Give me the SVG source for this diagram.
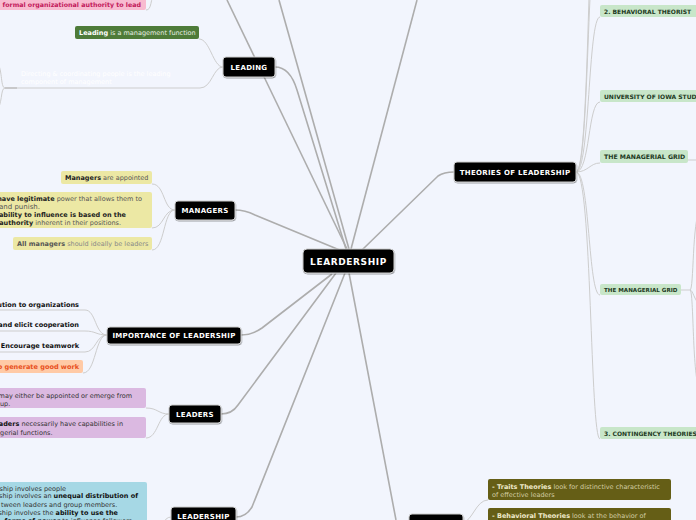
<svg xmlns="http://www.w3.org/2000/svg" width="696" height="520" viewBox="0 0 696 520">
<defs>
<filter id="sh" x="-10%" y="-20%" width="120%" height="150%"><feDropShadow dx="0.5" dy="1" stdDeviation="0.7" flood-color="#000" flood-opacity="0.35"/></filter>
<style>
text{font-family:"DejaVu Sans","Verdana",sans-serif}
.nd{fill:#000;stroke:#cfcfcf;stroke-width:1;filter:url(#sh)}
.nt{fill:#fff;font-weight:bold;font-size:7px;text-anchor:middle;letter-spacing:0.3px}
.gr{fill:#c8e6c9}
.gt{fill:#1e3a24;font-weight:bold;font-size:6px}
.main{fill:none;stroke:#adadad;stroke-width:1.6}
.sub{fill:none;stroke:#cdcdcd;stroke-width:1}
.b{font-size:6.5px}
.bo{font-weight:bold}
.imp{font-weight:bold;font-size:6.55px;text-anchor:end}
</style>
</defs>
<rect width="696" height="520" fill="#f2f5fd"/>
<g id="connectors">
<path class="main" d="M347 249 L227 0"/>
<path class="main" d="M349 249 L279 0"/>
<path class="main" d="M275 67 Q290 67 297 90 L346 249"/>
<path class="main" d="M351 249 L417 0"/>
<path class="main" d="M235 210 Q245 210 255 215 L342 251"/>
<path class="main" d="M362 250 L438 176 Q444 172 454 172"/>
<path class="main" d="M241 335 Q252 335 262 328 L332 274"/>
<path class="main" d="M221 414 Q232 414 238 405 L336 273"/>
<path class="main" d="M236 517 Q246 517 252 507 L345 273"/>
<path class="main" d="M349 273 L396 520 Q398 528 409 528"/>
<path class="sub" d="M576 172 C590 172 586 -80 600 -80"/>
<path class="sub" d="M576 172 C591 172 587 -160 600 -160"/>
<path class="sub" d="M576 172 C590 172 588 17 600 17"/>
<path class="sub" d="M576 172 C590 172 588 102 600 102"/>
<path class="sub" d="M576 172 C588 172 590 163 600 163"/>
<path class="sub" d="M576 172 C590 172 588 295 600 295"/>
<path class="sub" d="M576 172 C592 172 590 439 600 439"/>
<path class="sub" d="M688 160 L700 160"/>
<path class="sub" d="M681 290 L690 290 C694 290 692 220 700 210"/>
<path class="sub" d="M690 290 C694 290 692 380 700 390"/>
<path class="sub" d="M690 290 C693 290 694 300 700 305"/>
<path class="sub" d="M146 10 C152 10 150 0 155 -10"/>
<path class="sub" d="M223 67 C213 67 210 39 199 39"/>
<path class="sub" d="M223 67 C213 67 212 88 200 88 L17 88"/>
<path fill="none" stroke="#bdbdbd" stroke-width="1.6" d="M5 88 L17 88"/>
<path class="sub" d="M5 88 C0 88 3 66 -4 62"/>
<path class="sub" d="M5 88 C0 88 3 106 -4 110"/>
<path class="sub" d="M175 210 C163 210 165 184 152 184"/>
<path class="sub" d="M175 210 C163 210 164 228 152 228"/>
<path class="sub" d="M175 210 C163 210 165 250 152 250"/>
<path class="sub" d="M0 310 L85 310 C96 310 95 335 107 335"/>
<path class="sub" d="M0 331 L85 331 C96 331 96 335 107 335"/>
<path class="sub" d="M0 352 L85 352 C96 352 96 335 107 335"/>
<path class="sub" d="M83 373 C96 373 95 335 107 335"/>
<path class="sub" d="M169 414 C158 414 158 408 146 408"/>
<path class="sub" d="M169 414 C158 414 158 438 146 438"/>
<path class="sub" d="M171 517 C163 517 162 530 150 535"/>
<path class="sub" d="M463 522 C472 522 476 500 488 500"/>
<path class="sub" d="M463 522 C470 522 478 530 488 530"/>
</g>
<g id="n-center"><rect class="nd" x="303" y="249" width="91" height="24" rx="4"/><text x="348.5" y="265" class="nt" style="font-size:9px;letter-spacing:0.6px">LEARDERSHIP</text></g>
<g id="n-theories"><rect class="nd" x="454" y="162" width="122" height="20" rx="3"/><text x="515" y="174.5" class="nt">THEORIES OF LEADERSHIP</text></g>
<g id="n-leading"><rect class="nd" x="223" y="57" width="52" height="20" rx="3"/><text x="249" y="69.5" class="nt">LEADING</text></g>
<g id="n-managers"><rect class="nd" x="175" y="201" width="60" height="19" rx="3"/><text x="205" y="213" class="nt">MANAGERS</text></g>
<g id="n-importance"><rect class="nd" x="107" y="327" width="134" height="17" rx="3"/><text x="174" y="338" class="nt">IMPORTANCE OF LEADERSHIP</text></g>
<g id="n-leaders"><rect class="nd" x="169" y="405" width="52" height="18" rx="3"/><text x="195" y="416.5" class="nt">LEADERS</text></g>
<g id="n-leadership"><rect class="nd" x="171" y="507" width="65" height="22" rx="3"/><text x="203.5" y="519" class="nt">LEADERSHIP</text></g>
<g id="n-bottom"><rect class="nd" x="409" y="514" width="54" height="20" rx="3"/></g>
<g id="n-behav"><rect class="gr" x="600" y="5" width="100" height="12" rx="2"/><text x="604" y="13.5" class="gt">2. BEHAVIORAL THEORIST</text></g>
<g id="n-iowa"><rect class="gr" x="600" y="90" width="100" height="12" rx="2"/><text x="604" y="98.5" class="gt">UNIVERSITY OF IOWA STUDIES</text></g>
<g id="n-grid1"><rect class="gr" x="600" y="150" width="88" height="13" rx="2"/><text x="604" y="159" class="gt" style="font-size:6.2px">THE MANAGERIAL GRID</text></g>
<g id="n-grid2"><rect class="gr" x="600" y="284" width="81" height="11" rx="2"/><text x="604" y="292" class="gt" style="font-size:5.6px">THE MANAGERIAL GRID</text></g>
<g id="n-contingency"><rect class="gr" x="600" y="427" width="100" height="12" rx="2"/><text x="604" y="435.5" class="gt">3. CONTINGENCY THEORIES</text></g>
<g id="n-pink"><rect x="-5" y="-8" width="151" height="18" rx="2" fill="#f8bbd0"/><text x="141" y="7" text-anchor="end" class="bo" style="font-size:6.3px" fill="#c2185b">formal organizational authority to lead</text></g>
<g id="n-leadfunc"><rect x="75" y="26" width="124" height="13" rx="2" fill="#4e7b39"/><text x="79" y="35" class="b" fill="#e8efe4"><tspan class="bo" fill="#fff">Leading</tspan> is a management function</text></g>
<g id="n-directing"><text x="21" y="76" class="b" fill="#fff">Directing &amp; coordinating people is the leading</text><text x="21" y="84" class="b" fill="#fff">component of management</text></g>
<g id="n-appointed"><rect x="61" y="171" width="91" height="13" rx="2" fill="#ece8a4"/><text x="65" y="180" class="b" fill="#555"><tspan class="bo" fill="#222">Managers</tspan> are appointed</text></g>
<g id="n-legit"><rect x="-5" y="192" width="157" height="36" rx="2" fill="#ece8a4"/>
<text x="142" y="200.5" text-anchor="end" class="b" fill="#555"><tspan class="bo" fill="#222">have legitimate</tspan> power that allows them to</text>
<text x="-1" y="208.5" class="b" fill="#555" style="font-size:7px">and punish.</text>
<text x="126" y="216.5" text-anchor="end" class="b bo" fill="#222">ability to influence is based on the</text>
<text x="121" y="224.5" text-anchor="end" class="b" fill="#555"><tspan class="bo" fill="#222">authority</tspan> inherent in their positions.</text></g>
<g id="n-allmanagers"><rect x="13" y="237" width="139" height="13" rx="2" fill="#ece8a4"/><text x="17" y="246" class="b" fill="#888"><tspan class="bo" fill="#555">All managers</tspan> should ideally be leaders</text></g>
<g id="n-imp1"><text x="79" y="306.5" class="imp" fill="#111">ution to organizations</text></g>
<g id="n-imp2"><text x="79" y="327" class="imp" fill="#111">and elicit cooperation</text></g>
<g id="n-imp3"><text x="79" y="348" class="imp" fill="#111">Encourage teamwork</text></g>
<g id="n-imp4"><rect x="-5" y="360" width="88" height="13" rx="2" fill="#ffcaa6"/><text x="79" y="369.3" class="imp" fill="#e8501c">o generate good work</text></g>
<g id="n-appointedemerge"><rect x="-5" y="388" width="151" height="20" rx="2" fill="#dbb9e1"/>
<text x="132" y="398" text-anchor="end" class="b" fill="#333">may either be appointed or emerge from</text>
<text x="0" y="405.6" class="b" fill="#333">up.</text></g>
<g id="n-capab"><rect x="-5" y="417" width="151" height="21" rx="2" fill="#dbb9e1"/>
<text x="123" y="426.3" text-anchor="end" class="b" fill="#333"><tspan class="bo" fill="#111">aders</tspan> necessarily have capabilities in</text>
<text x="0" y="434.6" class="b" fill="#333">gerial functions.</text></g>
<g id="n-involves"><rect x="-5" y="482" width="152" height="45" rx="2" fill="#a6d8e5"/>
<text x="66" y="490.6" text-anchor="end" class="b" fill="#333">ship involves people</text>
<text x="138" y="498.3" text-anchor="end" class="b" fill="#333">ship involves an <tspan class="bo" fill="#111">unequal distribution of</tspan></text>
<text x="1" y="506.6" class="b" fill="#333">tween leaders  and group members.</text>
<text x="118" y="514.6" text-anchor="end" class="b" fill="#333">ship involves the <tspan class="bo" fill="#111">ability to use the</tspan></text>
<text x="132" y="522.6" text-anchor="end" class="b" fill="#333"><tspan class="bo" fill="#111">forms of power</tspan> to influence followers</text></g>
<g id="n-traits"><rect x="488" y="479" width="183" height="21" rx="2" fill="#655e16"/>
<text x="492" y="489" class="b" fill="#d2cda3"><tspan class="bo" fill="#efeacb">- Traits Theories</tspan> look for distinctive characteristic</text>
<text x="492" y="497" class="b" fill="#d2cda3">of effective leaders</text></g>
<g id="n-behavioral"><rect x="488" y="508" width="183" height="20" rx="2" fill="#655e16"/>
<text x="492" y="518" class="b" fill="#d2cda3"><tspan class="bo" fill="#efeacb">- Behavioral Theories</tspan> look at the behavior of</text></g>
</svg>
